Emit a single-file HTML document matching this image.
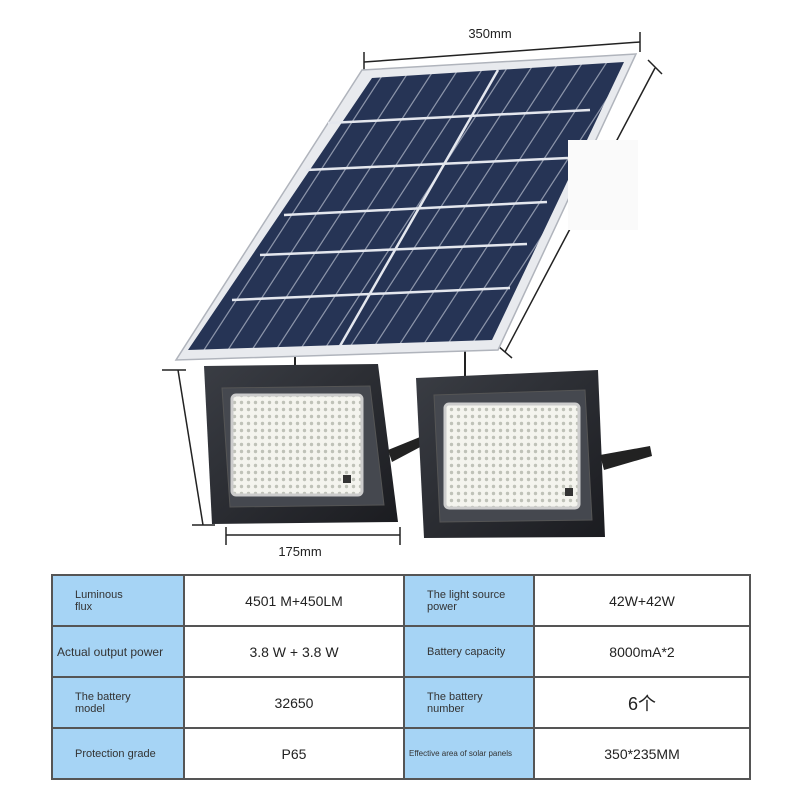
<!DOCTYPE html>
<html><head><meta charset="utf-8"><style>
body{margin:0;width:800px;height:800px;background:#fff;overflow:hidden;font-family:"Liberation Sans","Noto Sans CJK SC",sans-serif}
table{position:absolute;left:51px;top:574px;border-collapse:collapse;}
td{border:2px solid #555;height:49px;padding:0;font-size:14px;color:#222;text-align:center}
td.b{background:#a6d4f5;font-size:11px;color:#333;text-align:left;padding-left:22px}
</style></head><body>
<svg width="800" height="570" style="position:absolute;left:0;top:0">
<defs>
<pattern id="cells" width="24" height="24" patternUnits="userSpaceOnUse" patternTransform="skewX(-33)">
<rect width="24" height="24" fill="#263455"/><rect x="22.5" width="1.5" height="24" fill="#8a93a8"/>
</pattern>
<pattern id="leds" width="7" height="7" patternUnits="userSpaceOnUse"><rect width="7" height="7" fill="#f4f4ee"/><circle cx="3.5" cy="3.5" r="1.7" fill="#bfc2b8"/></pattern>
<linearGradient id="bg2" x1="0" y1="0" x2="1" y2="1"><stop offset="0" stop-color="#3a3d44"/><stop offset="1" stop-color="#1b1c20"/></linearGradient>
</defs>
<g stroke="#222" stroke-width="1.5">
<line x1="364" y1="62" x2="640" y2="42"/><line x1="364" y1="52" x2="364" y2="72"/><line x1="640" y1="32" x2="640" y2="52"/>
<line x1="655" y1="68" x2="505" y2="352"/><line x1="648" y1="60" x2="662" y2="74"/><line x1="498" y1="346" x2="512" y2="358"/>
<line x1="178" y1="370" x2="203" y2="525"/><line x1="162" y1="370" x2="186" y2="370"/><line x1="192" y1="525" x2="215" y2="525"/>
<line x1="226" y1="535" x2="400" y2="535"/><line x1="226" y1="527" x2="226" y2="545"/><line x1="400" y1="527" x2="400" y2="545"/>
</g>
<text x="490" y="38" font-size="13" text-anchor="middle" fill="#222" font-family="Liberation Sans">350mm</text>
<text x="300" y="556" font-size="13" text-anchor="middle" fill="#222" font-family="Liberation Sans">175mm</text>
<line x1="295" y1="355" x2="295" y2="372" stroke="#222" stroke-width="2"/>
<line x1="465" y1="345" x2="465" y2="378" stroke="#222" stroke-width="2"/>
<polygon points="362,70 636,54 498,350 176,360" fill="#e8eaee" stroke="#b0b4bc" stroke-width="1.5"/>
<polygon points="372,78 624,62 492,340 188,350" fill="url(#cells)"/>
<g stroke="#e4e7ee" stroke-width="2.5">
<line x1="328" y1="123" x2="590" y2="110"/><line x1="306" y1="170" x2="568" y2="158"/><line x1="284" y1="215" x2="547" y2="202"/>
<line x1="260" y1="255" x2="527" y2="244"/><line x1="232" y1="300" x2="510" y2="288"/>
<line x1="498" y1="70" x2="340" y2="346"/>
</g>
<rect x="568" y="140" width="70" height="90" fill="#fafafa"/>
<polygon points="204,366 378,364 398,522 212,524" fill="url(#bg2)"/>
<polygon points="222,388 370,386 384,505 230,507" fill="#45484f" stroke="#555" />
<rect x="232" y="395" width="130" height="100" rx="4" fill="url(#leds)" stroke="#ccc" stroke-width="3"/>
<rect x="343" y="475" width="8" height="8" fill="#333"/>
<polygon points="388,450 420,437 424,445 392,462" fill="#222"/>
<polygon points="416,378 598,370 605,537 424,538" fill="url(#bg2)"/>
<polygon points="434,395 585,390 592,520 440,522" fill="#45484f" stroke="#555"/>
<rect x="445" y="404" width="134" height="104" rx="4" fill="url(#leds)" stroke="#ccc" stroke-width="3"/>
<rect x="565" y="488" width="8" height="8" fill="#333"/>
<polygon points="600,455 650,446 652,456 604,470" fill="#222"/>
</svg>
<table>
<tr><td class="b" style="width:108px">Luminous<br>flux</td><td style="width:218px">4501 M+450LM</td><td class="b" style="width:106px">The light source<br>power</td><td style="width:214px">42W+42W</td></tr>
<tr><td class="b" style="padding-left:4px;font-size:12px">Actual output power</td><td>3.8 W + 3.8 W</td><td class="b">Battery capacity</td><td>8000mA*2</td></tr>
<tr><td class="b">The battery<br>model</td><td>32650</td><td class="b">The battery<br>number</td><td style="font-size:18px">6个</td></tr>
<tr><td class="b">Protection grade</td><td>P65</td><td class="b" style="font-size:8px;padding-left:4px">Effective area of solar panels</td><td>350*235MM</td></tr>
</table>
</body></html>
